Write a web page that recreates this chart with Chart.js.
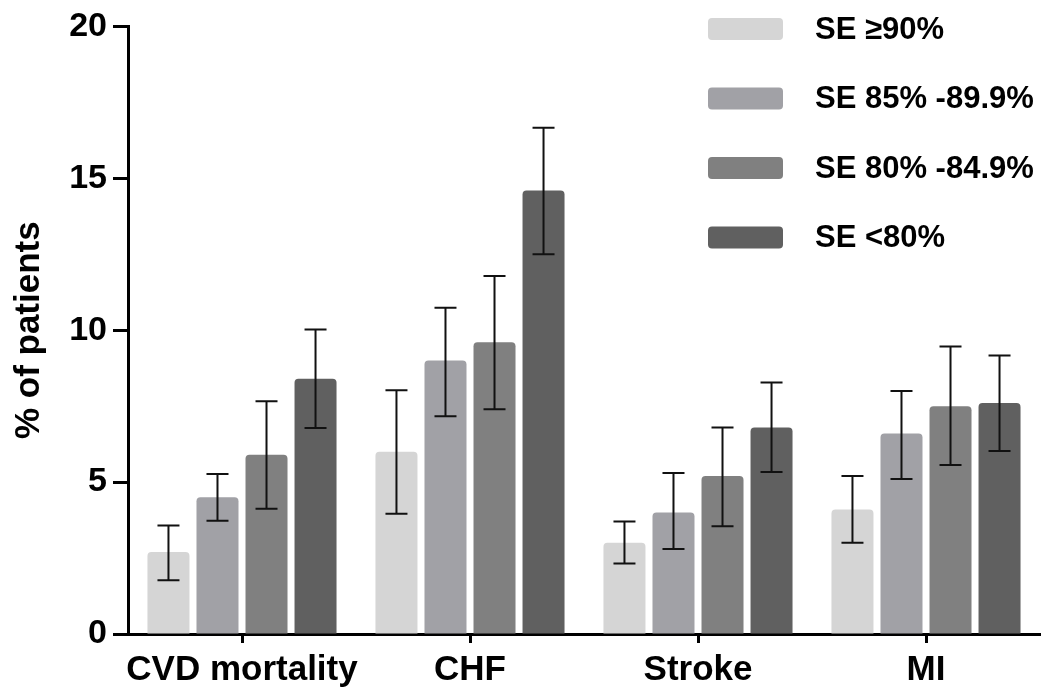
<!DOCTYPE html>
<html>
<head>
<meta charset="utf-8">
<title>% of patients by SE</title>
<script src="https://cdn.jsdelivr.net/npm/chart.js@4.4.1/dist/chart.umd.min.js"></script>
<style>
  html, body { margin: 0; padding: 0; background: #fff; }
  #wrap { width: 1043px; height: 698px; }
</style>
</head>
<body>
<div id="wrap"><canvas id="chart" width="1043" height="698"></canvas></div>
<script>
// DATA
const categories = ["CVD mortality", "CHF", "Stroke", "MI"];
const seriesLabels = ["SE \u226590%", "SE 85% -89.9%", "SE 80% -84.9%", "SE <80%"];
const seriesColors = ["#d5d5d5", "#a1a1a6", "#808080", "#606060"];

const se90 = [2.7, 6.0, 3.0, 4.1];
const se85 = [4.5, 9.0, 4.0, 6.6];
const se80 = [5.9, 9.6, 5.2, 7.5];
const seUnder80 = [8.4, 14.6, 6.8, 7.6];

// error bar ends (low / high)
const se90Lo = [1.77, 3.96, 2.32, 3.0];
const se90Hi = [3.57, 8.02, 3.7, 5.2];
const se85Lo = [3.73, 7.17, 2.8, 5.1];
const se85Hi = [5.27, 10.74, 5.3, 8.0];
const se80Lo = [4.12, 7.4, 3.55, 5.56];
const se80Hi = [7.66, 11.78, 6.8, 9.46];
const seUnder80Lo = [6.78, 12.5, 5.33, 6.02];
const seUnder80Hi = [10.02, 16.66, 8.28, 9.17];

const yTicks = [0, 5, 10, 15, 20];

const FONT = "'Liberation Sans', Arial, Helvetica, sans-serif";

const values = [se90, se85, se80, seUnder80];
const errLo = [se90Lo, se85Lo, se80Lo, seUnder80Lo];
const errHi = [se90Hi, se85Hi, se80Hi, seUnder80Hi];

// error bars, drawn through the y scale
const errorBars = {
  id: "errorBars",
  afterDatasetsDraw(chart) {
    const ctx = chart.ctx;
    const y = chart.scales.y;
    ctx.save();
    ctx.strokeStyle = "#111";
    ctx.lineWidth = 2;
    chart.data.datasets.forEach((ds, di) => {
      const meta = chart.getDatasetMeta(di);
      meta.data.forEach((bar, i) => {
        const x = bar.x;
        const yl = y.getPixelForValue(errLo[di][i]);
        const yh = y.getPixelForValue(errHi[di][i]);
        const cap = 11;
        ctx.beginPath();
        ctx.moveTo(x, yl); ctx.lineTo(x, yh);
        ctx.moveTo(x - cap, yl); ctx.lineTo(x + cap, yl);
        ctx.moveTo(x - cap, yh); ctx.lineTo(x + cap, yh);
        ctx.stroke();
      });
    });
    ctx.restore();
  }
};

// legend in the top right corner, over the chart area
const cornerLegend = {
  id: "cornerLegend",
  afterDraw(chart) {
    const ctx = chart.ctx;
    ctx.save();
    ctx.font = "bold 31px " + FONT;
    ctx.textBaseline = "middle";
    ctx.textAlign = "left";
    chart.data.datasets.forEach((ds, i) => {
      const cy = 29 + i * 69.5;
      ctx.fillStyle = ds.backgroundColor;
      ctx.beginPath();
      if (ctx.roundRect) ctx.roundRect(708, cy - 11, 75, 22, 4);
      else ctx.rect(708, cy - 11, 75, 22);
      ctx.fill();
      ctx.fillStyle = "#000";
      ctx.fillText(ds.label, 815, cy + 1);
    });
    ctx.restore();
  }
};

const datasets = values.map((v, i) => ({
  label: seriesLabels[i],
  data: v,
  backgroundColor: seriesColors[i],
  borderWidth: 0,
  borderRadius: { topLeft: 4, topRight: 4, bottomLeft: 0, bottomRight: 0 },
  borderSkipped: "start",
  categoryPercentage: 0.86,
  barPercentage: 0.857
}));

new Chart(document.getElementById("chart"), {
  type: "bar",
  data: { labels: categories, datasets },
  options: {
    responsive: false,
    animation: false,
    layout: { padding: { top: 24, right: 3, bottom: 0, left: 0 } },
    plugins: {
      legend: { display: false },
      tooltip: { enabled: false }
    },
    scales: {
      x: {
        offset: true,
        border: { display: true, color: "#000", width: 3 },
        grid: {
          display: true, offset: false, drawOnChartArea: false,
          drawTicks: true, tickLength: 9, tickWidth: 3, tickColor: "#000"
        },
        ticks: {
          color: "#000", padding: 6, autoSkip: false,
          font: { family: FONT, size: 35, weight: "bold" },
          maxRotation: 0
        },
        afterFit(scale) { scale.height = 64; }
      },
      y: {
        min: 0, max: 20,
        border: { display: true, color: "#000", width: 3 },
        grid: {
          display: true, drawOnChartArea: false,
          drawTicks: true, tickLength: 15, tickWidth: 3, tickColor: "#000"
        },
        afterBuildTicks(scale) { scale.ticks = yTicks.map(v => ({ value: v })); },
        ticks: {
          color: "#000", padding: 6,
          font: { family: FONT, size: 34, weight: "bold" }
        },
        title: {
          display: true, text: "% of patients", color: "#000",
          padding: { top: 8, bottom: 0 },
          font: { family: FONT, size: 35, weight: "bold" }
        },
        afterFit(scale) { scale.width = 128; }
      }
    }
  },
  plugins: [errorBars, cornerLegend]
});
</script>
</body>
</html>
